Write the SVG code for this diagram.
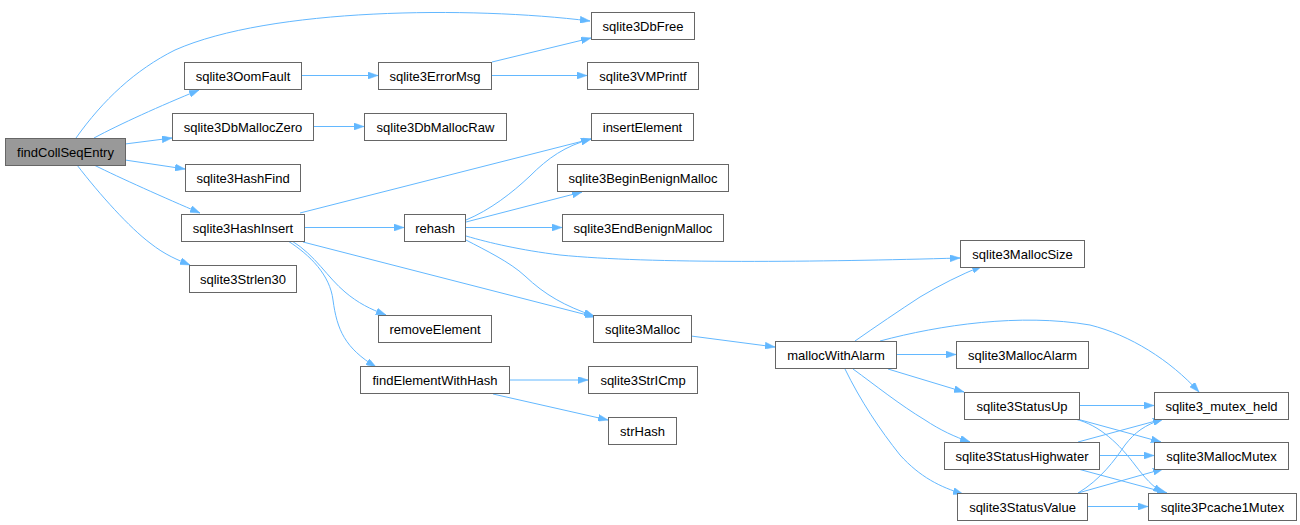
<svg xmlns="http://www.w3.org/2000/svg" width="1300" height="525" viewBox="0 0 1300 525">
<style>
.node rect{fill:#ffffff;stroke:#666666;stroke-width:1}
.node.root rect{fill:#999999}
.node text{font-family:"Liberation Sans",Arial,sans-serif;font-size:13px;fill:#000000;text-anchor:middle}
.edges path{fill:none;stroke:#63b8ff;stroke-width:1;marker-end:url(#arr)}
</style>
<defs>
<marker id="arr" viewBox="0 0 10 7" refX="10" refY="3.5" markerWidth="10" markerHeight="7" markerUnits="userSpaceOnUse" orient="auto">
<path d="M0,0 L10,3.5 L0,7 Z" fill="#63b8ff" stroke="#63b8ff" stroke-width="0.5"/>
</marker>
</defs>
<rect width="1300" height="525" fill="#ffffff"/>
<g class="edges">
<path d="M76,138 C103,100 135,70 175,50 C270,8 470,6 590,21"/>
<path d="M94,138 C120,124 160,106 199,90"/>
<path d="M125,144 L172,138"/>
<path d="M125,160 L185,169"/>
<path d="M94,165 C120,178 165,198 200,213"/>
<path d="M77,165 C100,195 130,228 150,243 C165,255 178,260 190,265"/>
<path d="M301,75.5 L378,75.5"/>
<path d="M313,126.5 L364,126.5"/>
<path d="M492,62 L591,38"/>
<path d="M491,75.5 L587,75.5"/>
<path d="M300,213 L591,139"/>
<path d="M304,227.5 L404,227.5"/>
<path d="M303,242 L595,317"/>
<path d="M292,241 C315,255 328,278 345,292 C358,303 370,309 386,315"/>
<path d="M288,241 C310,255 330,275 333,300 C337,330 345,348 376,367"/>
<path d="M466,220 C490,210 512,193 530,176 C548,158 565,146 591,139"/>
<path d="M466,222 L582,192"/>
<path d="M465,227.5 L562,227.5"/>
<path d="M466,236 C490,243 520,250 560,255 C650,264 820,262 960,258"/>
<path d="M466,240 C485,250 510,262 525,276 C545,295 565,306 594,316"/>
<path d="M691,336 L775,347"/>
<path d="M855,341 C875,327 900,310 920,297 C940,285 960,275 982,266"/>
<path d="M880,341 C940,325 1020,313 1090,325 C1130,335 1170,360 1199,392"/>
<path d="M896,354.5 L956,354.5"/>
<path d="M888,369 L964,392"/>
<path d="M853,369 C875,385 900,405 925,420 C940,430 955,437 970,442"/>
<path d="M845,369 C860,400 880,430 900,455 C920,477 940,487 963,494"/>
<path d="M1079,405.5 L1154,405.5"/>
<path d="M1077,419 L1161,442"/>
<path d="M1075,419 C1100,425 1120,445 1135,465 C1145,478 1152,486 1163,493"/>
<path d="M1078,442 L1163,419"/>
<path d="M1099,455.5 L1154,455.5"/>
<path d="M1078,469 L1167,493"/>
<path d="M1078,493 C1100,480 1115,460 1125,445 C1135,432 1145,425 1163,419"/>
<path d="M1078,493 L1163,469"/>
<path d="M1087,506.5 L1148,506.5"/>
<path d="M509,380 L588,380"/>
<path d="M493,394 L608,420"/>
</g>
<g id="node-findCollSeqEntry" class="node root"><rect x="5.5" y="138.5" width="120" height="27"/><text x="65.5" y="156.5">findCollSeqEntry</text></g>
<g id="node-sqlite3OomFault" class="node"><rect x="184.5" y="62.5" width="117" height="27"/><text x="243" y="80.5">sqlite3OomFault</text></g>
<g id="node-sqlite3DbMallocZero" class="node"><rect x="172.5" y="113.5" width="141" height="27"/><text x="243" y="131.5">sqlite3DbMallocZero</text></g>
<g id="node-sqlite3HashFind" class="node"><rect x="185.5" y="164.5" width="115" height="27"/><text x="243" y="182.5">sqlite3HashFind</text></g>
<g id="node-sqlite3HashInsert" class="node"><rect x="181.5" y="214.5" width="123" height="27"/><text x="243" y="232.5">sqlite3HashInsert</text></g>
<g id="node-sqlite3Strlen30" class="node"><rect x="189.5" y="265.5" width="107" height="27"/><text x="243" y="283.5">sqlite3Strlen30</text></g>
<g id="node-sqlite3ErrorMsg" class="node"><rect x="378.5" y="62.5" width="113" height="27"/><text x="435" y="80.5">sqlite3ErrorMsg</text></g>
<g id="node-sqlite3DbMallocRaw" class="node"><rect x="364.5" y="113.5" width="142" height="27"/><text x="435.5" y="131.5">sqlite3DbMallocRaw</text></g>
<g id="node-rehash" class="node"><rect x="404.5" y="214.5" width="61" height="27"/><text x="435" y="232.5">rehash</text></g>
<g id="node-removeElement" class="node"><rect x="378.5" y="315.5" width="113" height="27"/><text x="435" y="333.5">removeElement</text></g>
<g id="node-findElementWithHash" class="node"><rect x="360.5" y="366.5" width="149" height="27"/><text x="435" y="384.5">findElementWithHash</text></g>
<g id="node-sqlite3DbFree" class="node"><rect x="591.5" y="12.5" width="103" height="27"/><text x="643" y="30.5">sqlite3DbFree</text></g>
<g id="node-sqlite3VMPrintf" class="node"><rect x="587.5" y="62.5" width="111" height="27"/><text x="643" y="80.5">sqlite3VMPrintf</text></g>
<g id="node-insertElement" class="node"><rect x="591.5" y="113.5" width="102" height="27"/><text x="642.5" y="131.5">insertElement</text></g>
<g id="node-sqlite3BeginBenignMalloc" class="node"><rect x="557.5" y="164.5" width="171" height="27"/><text x="643" y="182.5">sqlite3BeginBenignMalloc</text></g>
<g id="node-sqlite3EndBenignMalloc" class="node"><rect x="562.5" y="214.5" width="161" height="27"/><text x="643" y="232.5">sqlite3EndBenignMalloc</text></g>
<g id="node-sqlite3Malloc" class="node"><rect x="593.5" y="315.5" width="98" height="27"/><text x="642.5" y="333.5">sqlite3Malloc</text></g>
<g id="node-sqlite3StrICmp" class="node"><rect x="588.5" y="366.5" width="109" height="27"/><text x="643" y="384.5">sqlite3StrICmp</text></g>
<g id="node-strHash" class="node"><rect x="608.5" y="417.5" width="68" height="27"/><text x="642.5" y="435.5">strHash</text></g>
<g id="node-mallocWithAlarm" class="node"><rect x="775.5" y="341.5" width="121" height="27"/><text x="836" y="359.5">mallocWithAlarm</text></g>
<g id="node-sqlite3MallocSize" class="node"><rect x="960.5" y="240.5" width="124" height="27"/><text x="1022.5" y="258.5">sqlite3MallocSize</text></g>
<g id="node-sqlite3MallocAlarm" class="node"><rect x="956.5" y="341.5" width="132" height="27"/><text x="1022.5" y="359.5">sqlite3MallocAlarm</text></g>
<g id="node-sqlite3StatusUp" class="node"><rect x="964.5" y="392.5" width="115" height="27"/><text x="1022" y="410.5">sqlite3StatusUp</text></g>
<g id="node-sqlite3StatusHighwater" class="node"><rect x="944.5" y="442.5" width="155" height="27"/><text x="1022" y="460.5">sqlite3StatusHighwater</text></g>
<g id="node-sqlite3StatusValue" class="node"><rect x="957.5" y="493.5" width="130" height="27"/><text x="1022.5" y="511.5">sqlite3StatusValue</text></g>
<g id="node-sqlite3_mutex_held" class="node"><rect x="1154.5" y="392.5" width="134" height="27"/><text x="1221.5" y="410.5">sqlite3_mutex_held</text></g>
<g id="node-sqlite3MallocMutex" class="node"><rect x="1154.5" y="442.5" width="134" height="27"/><text x="1221.5" y="460.5">sqlite3MallocMutex</text></g>
<g id="node-sqlite3Pcache1Mutex" class="node"><rect x="1148.5" y="493.5" width="148" height="27"/><text x="1222.5" y="511.5">sqlite3Pcache1Mutex</text></g>
</svg>
